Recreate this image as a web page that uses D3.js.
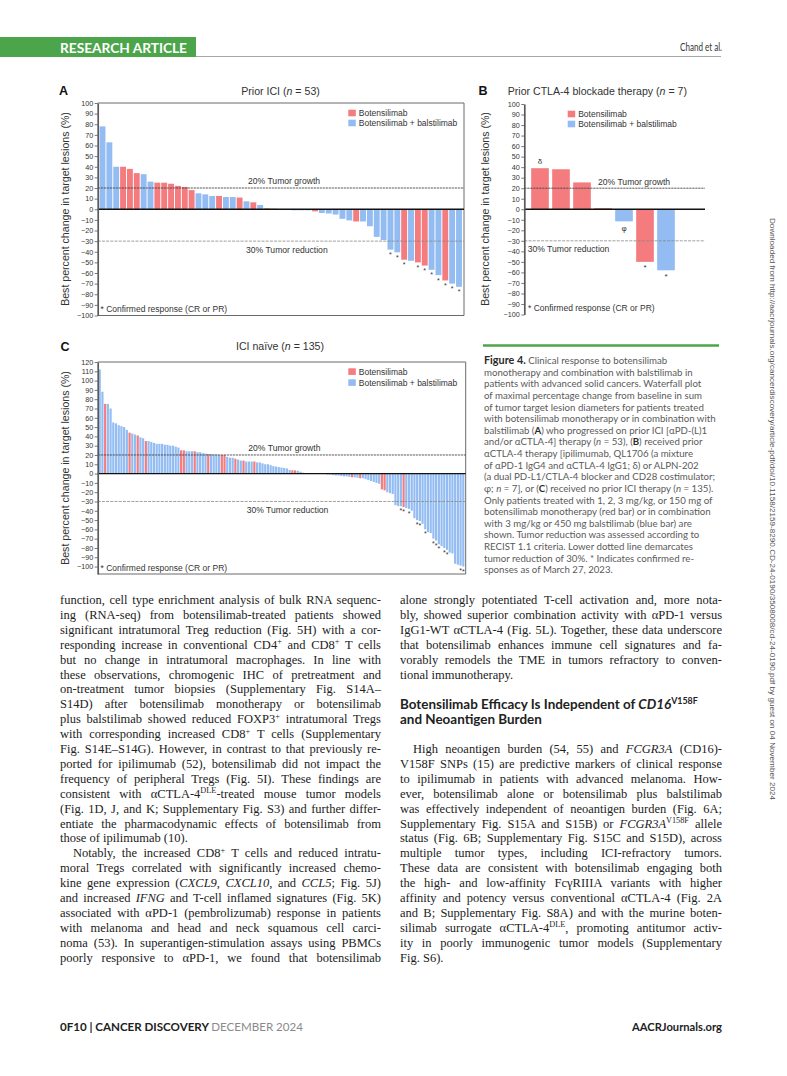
<!DOCTYPE html>
<html>
<head>
<meta charset="utf-8">
<script src="https://cdn.jsdelivr.net/npm/d3@7/dist/d3.min.js"></script>
<style>
html,body{margin:0;padding:0;background:#fff;}
svg{display:block;}
</style>
</head>
<body>
<svg id="page" width="787" height="1076"></svg>
<script>
// ================= DATA =================
const seriesNames = ["Botensilimab", "Botensilimab + balstilimab"];

// Panel A: Prior ICI (n = 53)
const panelA_values = [78, 63, 40, 40, 38, 34, 33, 26, 25, 25, 24, 22, 21, 18, 15, 14, 12.5, 12.5, 11.5, 11.5,
  11, 7.5, 6.5, 4, 0.8, 0.5, 0, 0, -1, -1, -1, -2, -3.5, -4, -5, -9, -10.5, -11.5, -11.5, -16,
  -26, -29, -38, -40.5, -47.5, -48.5, -50, -53, -57, -62, -67, -70, -73];
const panelA_monoIdx = [3, 4, 5, 8, 9, 10, 11, 12, 13, 17, 20, 22, 24, 25, 31, 37, 44, 46, 47, 50];
const panelA_confirmedIdx = [42, 43, 44, 46, 47, 48, 49, 50, 51, 52];

// Panel B: Prior CTLA-4 blockade therapy (n = 7)
const panelB_values = [39, 38, 25.5, 1, -11.5, -50, -58];
const panelB_monoIdx = [0, 1, 2, 3, 5];
const panelB_marks = [{i: 0, s: "δ", pos: "above"}, {i: 4, s: "φ", pos: "below"}, {i: 5, s: "*", pos: "below"}, {i: 6, s: "*", pos: "below"}];

// Panel C: ICI naive (n = 135)
const panelC_values = [112, 88, 75, 75, 70, 55, 54, 52, 51, 50,
  47, 44, 43, 42, 41, 39, 38, 35, 35, 34,
  33, 32, 32, 32, 31, 31, 30, 30, 29, 28,
  25, 25, 24, 24, 24, 24, 23, 23, 22, 21.5,
  21, 21, 20.5, 20.5, 20, 20, 20, 18, 17, 17,
  16, 15, 14, 14, 13, 13, 13, 13, 12, 12,
  11, 10, 10, 9, 8, 7.5, 7, 6.5, 6, 5.5,
  4, 3.5, 3.5, 3, 2, 1,
  0, 0, 0, 0, 0, 0, 0, 0,
  -1, -1, -1.5, -2, -2, -2.5, -3, -3, -3.5,
  -4, -4, -4.5, -5,
  -5, -6, -7, -8, -9, -10, -11,
  -17, -18, -20, -21, -22,
  -34, -35, -35, -36, -37, -38, -40, -48, -50, -51, -54, -60, -63, -64, -70, -72, -76, -78, -80, -82, -85, -86, -97, -98, -99, -100];
const panelC_monoIdx = [2, 11, 14, 17, 30, 31, 35, 40, 45, 46, 50, 53, 57, 71, 72, 93, 96, 104, 105, 112];
const panelC_confirmedIdx = [111, 112, 114, 117, 118, 120, 123, 124, 125, 127, 128, 133, 134];

const ticksAB = [-100, -90, -80, -70, -60, -50, -40, -30, -20, -10, 0, 10, 20, 30, 40, 50, 60, 70, 80, 90, 100];
const ticksC = [-100, -90, -80, -70, -60, -50, -40, -30, -20, -10, 0, 10, 20, 30, 40, 50, 60, 70, 80, 90, 100, 110, 120];
const growthLabel = "20% Tumor growth";
const reductionLabel = "30% Tumor reduction";
const footnoteLabel = "* Confirmed response (CR or PR)";
const yAxisTitle = "Best percent change in target lesions (%)";

// Text content
const captionLines = [
  "#{Figure 4.}  Clinical response to botensilimab",
  "monotherapy and combination with balstilimab in",
  "patients with advanced solid cancers. Waterfall plot",
  "of maximal percentage change from baseline in sum",
  "of tumor target lesion diameters for patients treated",
  "with botensilimab monotherapy or in combination with",
  "balstilimab (#{A}) who progressed on prior ICI [αPD-(L)1",
  "and/or αCTLA-4] therapy (~{n} = 53), (#{B}) received prior",
  "αCTLA-4 therapy [ipilimumab, QL1706 (a mixture",
  "of αPD-1 IgG4 and αCTLA-4 IgG1; δ) or ALPN-202",
  "(a dual PD-L1/CTLA-4 blocker and CD28 costimulator;",
  "φ; ~{n} = 7], or (#{C}) received no prior ICI therapy (~{n} = 135).",
  "Only patients treated with 1, 2, 3 mg/kg, or 150 mg of",
  "botensilimab monotherapy (red bar) or in combination",
  "with 3 mg/kg or 450 mg balstilimab (blue bar) are",
  "shown. Tumor reduction was assessed according to",
  "RECIST 1.1 criteria. Lower dotted line demarcates",
  "tumor reduction of 30%. * Indicates confirmed re-",
  "sponses as of March 27, 2023."
];

const leftColumn = [
  "function, cell type enrichment analysis of bulk RNA sequenc-",
  "ing (RNA-seq) from botensilimab-treated patients showed",
  "significant intratumoral Treg reduction (Fig. 5H) with a cor-",
  "responding increase in conventional CD4^{+} and CD8^{+} T cells",
  "but no change in intratumoral macrophages. In line with",
  "these observations, chromogenic IHC of pretreatment and",
  "on-treatment tumor biopsies (Supplementary Fig. S14A–",
  "S14D) after botensilimab monotherapy or botensilimab",
  "plus balstilimab showed reduced FOXP3^{+} intratumoral Tregs",
  "with corresponding increased CD8^{+} T cells (Supplementary",
  "Fig. S14E–S14G). However, in contrast to that previously re-",
  "ported for ipilimumab (52), botensilimab did not impact the",
  "frequency of peripheral Tregs (Fig. 5I). These findings are",
  "consistent with αCTLA-4^{DLE}-treated mouse tumor models",
  "(Fig. 1D, J, and K; Supplementary Fig. S3) and further differ-",
  "entiate the pharmacodynamic effects of botensilimab from",
  "those of ipilimumab (10).|",
  "\tNotably, the increased CD8^{+} T cells and reduced intratu-",
  "moral Tregs correlated with significantly increased chemo-",
  "kine gene expression (~{CXCL9}, ~{CXCL10}, and ~{CCL5}; Fig. 5J)",
  "and increased ~{IFNG} and T-cell inflamed signatures (Fig. 5K)",
  "associated with αPD-1 (pembrolizumab) response in patients",
  "with melanoma and head and neck squamous cell carci-",
  "noma (53). In superantigen-stimulation assays using PBMCs",
  "poorly responsive to αPD-1, we found that botensilimab"
];

const rightColumnTop = [
  "alone strongly potentiated T-cell activation and, more nota-",
  "bly, showed superior combination activity with αPD-1 versus",
  "IgG1-WT αCTLA-4 (Fig. 5L). Together, these data underscore",
  "that botensilimab enhances immune cell signatures and fa-",
  "vorably remodels the TME in tumors refractory to conven-",
  "tional immunotherapy.|"
];
const headingLines = [
  "Botensilimab Efficacy Is Independent of ~{CD16}^{V158F}",
  "and Neoantigen Burden"
];
const rightColumnBottom = [
  "\tHigh neoantigen burden (54, 55) and ~{FCGR3A} (CD16)-",
  "V158F SNPs (15) are predictive markers of clinical response",
  "to ipilimumab in patients with advanced melanoma. How-",
  "ever, botensilimab alone or botensilimab plus balstilimab",
  "was effectively independent of neoantigen burden (Fig. 6A;",
  "Supplementary Fig. S15A and S15B) or ~{FCGR3A}^{V158F} allele",
  "status (Fig. 6B; Supplementary Fig. S15C and S15D), across",
  "multiple tumor types, including ICI-refractory tumors.",
  "These data are consistent with botensilimab engaging both",
  "the high- and low-affinity FcγRIIIA variants with higher",
  "affinity and potency versus conventional αCTLA-4 (Fig. 2A",
  "and B; Supplementary Fig. S8A) and with the murine boten-",
  "silimab surrogate αCTLA-4^{DLE}, promoting antitumor activ-",
  "ity in poorly immunogenic tumor models (Supplementary",
  "Fig. S6).|"
];
const sideNote = "Downloaded from http://aacrjournals.org/cancerdiscovery/article-pdf/doi/10.1158/2159-8290.CD-24-0190/3508008/cd-24-0190.pdf by guest on 04 November 2024";

// ================= DRAWING =================
const svg = d3.select("#page");
const SANS = "'Liberation Sans', Arial, Helvetica, sans-serif";
const SERIF = "'Liberation Serif', 'Times New Roman', serif";
const CAP = "Lato, 'Open Sans', sans-serif";
const RED = "#f47b7e", BLUE = "#93bcf2", GREEN = "#4ca54a";
const color = d3.scaleOrdinal().domain(seriesNames).range([RED, BLUE]);

function fmtTick(d) { return d < 0 ? "\u2212" + Math.abs(d) : String(d); }

function richLine(parent, str, x, y, o) {
  const t = parent.append("text").attr("x", x).attr("y", y)
    .attr("font-family", o.family).attr("font-size", o.size).attr("fill", o.fill || "#222");
  if (o.weight) t.attr("font-weight", o.weight);
  if (o.anchor) t.attr("text-anchor", o.anchor);
  const re = /(\^\{[^}]*\}|~\{[^}]*\}|#\{[^}]*\}|[^^~#]+)/g;
  let m, pending = 0, plain = "";
  const shift = o.size * 0.36;
  while ((m = re.exec(str)) !== null) {
    const tok = m[0];
    let ts;
    if (tok.startsWith("^{")) {
      ts = t.append("tspan").text(tok.slice(2, -1)).attr("font-size", o.size * 0.66).attr("dy", -shift + pending);
      pending = shift;
    } else {
      let txt = tok, st = null;
      if (tok.startsWith("~{")) { txt = tok.slice(2, -1); st = "i"; }
      else if (tok.startsWith("#{")) { txt = tok.slice(2, -1); st = "b"; }
      ts = t.append("tspan").text(txt);
      if (st === "i") ts.attr("font-style", "italic");
      if (st === "b") { ts.attr("font-weight", "bold"); if (o.boldFill) ts.attr("fill", o.boldFill); if (o.boldSize) ts.attr("font-size", o.boldSize); }
      if (pending) { ts.attr("dy", pending); pending = 0; }
    }
    plain += ts.text();
  }
  if (o.justify && o.width) {
    const nat = t.node().getComputedTextLength();
    const spaces = (plain.match(/ /g) || []).length;
    if (nat < o.width && spaces > 0) t.attr("word-spacing", (o.width - nat) / spaces);
    else if (nat > o.width) t.attr("textLength", o.width).attr("lengthAdjust", "spacingAndGlyphs");
  }
  return t;
}

function waterfall(o) {
  const g = svg.append("g");
  const n = o.values.length;
  const x = d3.scaleBand().domain(d3.range(n)).range([o.bx0, o.bx1]).paddingInner(o.padIn).paddingOuter(o.padOut);
  const y = d3.scaleLinear().domain(o.yDomain).range([o.yBottom, o.yTop]);
  const mono = new Set(o.mono);
  const arm = i => mono.has(i) ? seriesNames[0] : seriesNames[1];

  if (o.frame) {
    g.append("path").attr("d", `M${o.axisX},${o.yTop}H${o.rightX}V${o.yBottom}H${o.axisX}`)
      .attr("fill", "none").attr("stroke", "#6a6a6a").attr("stroke-width", 1);
  }
  g.append("g").selectAll("rect").data(o.values).join("rect")
    .attr("x", (d, i) => x(i)).attr("width", x.bandwidth())
    .attr("y", d => y(Math.max(0, d))).attr("height", d => Math.abs(y(d) - y(0)))
    .attr("fill", (d, i) => color(arm(i)));

  // reference lines
  g.append("line").attr("x1", o.axisX).attr("x2", o.lineRight).attr("y1", y(20)).attr("y2", y(20))
    .attr("stroke", "#444").attr("stroke-width", 0.9).attr("stroke-dasharray", "2.2,0.8");
  g.append("line").attr("x1", o.axisX).attr("x2", o.lineRight).attr("y1", y(-30)).attr("y2", y(-30))
    .attr("stroke", "#888").attr("stroke-width", 0.8).attr("stroke-dasharray", "3,1.2");
  g.append("line").attr("x1", o.axisX).attr("x2", o.lineRight).attr("y1", y(0)).attr("y2", y(0))
    .attr("stroke", "#111").attr("stroke-width", 1.3);

  // axis
  const ax = g.append("g").attr("transform", `translate(${o.axisX},0)`)
    .call(d3.axisLeft(y).tickValues(o.ticks).tickSize(3).tickSizeOuter(0).tickPadding(1.5).tickFormat(fmtTick));
  ax.select(".domain").attr("stroke", "#5a5a5a").attr("stroke-width", 1.7);
  ax.selectAll(".tick line").attr("stroke", "#555").attr("stroke-width", 0.8);
  ax.selectAll(".tick text").attr("font-family", SANS).attr("font-size", 7.2).attr("fill", "#333");

  // y title
  g.append("text").attr("transform", `translate(${o.yLabelX},${o.yLabelY}) rotate(-90)`)
    .attr("text-anchor", "middle").attr("font-family", SANS).attr("font-size", 10.6).attr("fill", "#333")
    .text(yAxisTitle);

  // panel letter + title
  g.append("text").attr("x", o.letterX).attr("y", o.letterY).attr("font-family", SANS)
    .attr("font-weight", "bold").attr("font-size", 12.5).attr("fill", "#111").text(o.letter);
  richLine(g, o.title, o.titleX, o.titleY, {family: SANS, size: 10.6, fill: "#333", anchor: o.titleAnchor});

  // legend
  seriesNames.forEach((s, k) => {
    g.append("rect").attr("x", o.legendX).attr("y", o.legendY + k * o.legendStep)
      .attr("width", 7.5).attr("height", 6.6).attr("fill", color(s));
    g.append("text").attr("x", o.legendX + 10.5).attr("y", o.legendY + k * o.legendStep + 6.3)
      .attr("font-family", SANS).attr("font-size", 8.5).attr("fill", "#333").text(s);
  });

  // line labels
  g.append("text").attr("x", o.growthX).attr("y", o.growthY).attr("font-family", SANS)
    .attr("font-size", 8.6).attr("fill", "#333").text(growthLabel);
  g.append("text").attr("x", o.reductionX).attr("y", o.reductionY).attr("font-family", SANS)
    .attr("font-size", 8.6).attr("fill", "#333").text(reductionLabel);
  g.append("text").attr("x", o.footX).attr("y", o.footY).attr("font-family", SANS)
    .attr("font-size", 8.5).attr("fill", "#333").text(footnoteLabel);

  // marks
  g.append("g").selectAll("text").data(o.marks).join("text")
    .attr("x", d => x(d.i) + x.bandwidth() / 2)
    .attr("y", d => d.pos === "above" ? y(o.values[d.i]) - o.markAbove : y(o.values[d.i]) + (d.s === "*" ? o.starBelow : o.symBelow))
    .attr("text-anchor", "middle").attr("font-family", SANS)
    .attr("font-size", d => d.s === "*" ? o.starSize : 8).attr("fill", "#333")
    .text(d => d.s);
}

// Panel A
waterfall({
  values: panelA_values, mono: panelA_monoIdx,
  marks: panelA_confirmedIdx.map(i => ({i, s: "*", pos: "below"})),
  bx0: 99, bx1: 462.5, padIn: 0.14, padOut: 0.08,
  yDomain: [-100, 100], yTop: 103, yBottom: 315.5,
  axisX: 97.7, rightX: 464, lineRight: 464, frame: true, ticks: ticksAB,
  letter: "A", letterX: 59, letterY: 95,
  title: "Prior ICI (~{n} = 53)", titleX: 280.5, titleY: 95, titleAnchor: "middle",
  legendX: 348.3, legendY: 109.7, legendStep: 10,
  growthX: 248, growthY: 184, reductionX: 246, reductionY: 253,
  footX: 100.5, footY: 311.5, yLabelX: 68.8, yLabelY: 209,
  starBelow: 7.5, symBelow: 9, markAbove: 4, starSize: 7
});

// Panel B
waterfall({
  values: panelB_values, mono: panelB_monoIdx, marks: panelB_marks,
  bx0: 529.5, bx1: 676.5, padIn: 0.16, padOut: 0.08,
  yDomain: [-100, 100], yTop: 104, yBottom: 314.5,
  axisX: 524.3, rightX: 705, lineRight: 705, frame: false, ticks: ticksAB,
  letter: "B", letterX: 478.5, letterY: 95,
  title: "Prior CTLA-4 blockade therapy (~{n} = 7)", titleX: 507.7, titleY: 95, titleAnchor: "start",
  legendX: 567.7, legendY: 110.7, legendStep: 10,
  growthX: 598, growthY: 184.7, reductionX: 527.7, reductionY: 252.3,
  footX: 528, footY: 311, yLabelX: 488.5, yLabelY: 209,
  starBelow: 8.5, symBelow: 10, markAbove: 4.5, starSize: 8
});

// Panel C
waterfall({
  values: panelC_values, mono: panelC_monoIdx,
  marks: panelC_confirmedIdx.map(i => ({i, s: "*", pos: "below"})),
  bx0: 98.5, bx1: 464.5, padIn: 0.2, padOut: 0.05,
  yDomain: [-108, 120], yTop: 362, yBottom: 574,
  axisX: 97.7, rightX: 465.7, lineRight: 465.7, frame: true, ticks: ticksC,
  letter: "C", letterX: 60.5, letterY: 351,
  title: "ICI naïve (~{n} = 135)", titleX: 280, titleY: 350, titleAnchor: "middle",
  legendX: 348.3, legendY: 368.3, legendStep: 11,
  growthX: 248.3, growthY: 451.3, reductionX: 246.7, reductionY: 513,
  footX: 100.5, footY: 571.3, yLabelX: 68.8, yLabelY: 468,
  starBelow: 7, symBelow: 9, markAbove: 4, starSize: 7
});

// ---------- Header ----------
svg.append("rect").attr("x", 0).attr("y", 37).attr("width", 196).attr("height", 20).attr("fill", GREEN);
svg.append("text").attr("x", 60).attr("y", 52.5).attr("font-family", CAP).attr("font-weight", "bold")
  .attr("font-size", 13.5).attr("fill", "#fff").attr("textLength", 127).attr("lengthAdjust", "spacingAndGlyphs")
  .text("RESEARCH ARTICLE");
svg.append("line").attr("x1", 196).attr("x2", 721).attr("y1", 56.5).attr("y2", 56.5).attr("stroke", "#a8a8a8").attr("stroke-width", 1);
svg.append("text").attr("x", 722).attr("y", 51).attr("text-anchor", "end").attr("font-family", CAP)
  .attr("font-size", 10.5).attr("fill", "#333").attr("textLength", 42).attr("lengthAdjust", "spacingAndGlyphs")
  .text("Chand et al.");

// ---------- Caption ----------
svg.append("line").attr("x1", 483).attr("x2", 719).attr("y1", 345.5).attr("y2", 345.5).attr("stroke", GREEN).attr("stroke-width", 2.6);
(function() {
  const probe = svg.append("text").attr("font-family", CAP).attr("font-size", 10).text(captionLines[5]);
  const len = probe.node().getComputedTextLength();
  probe.remove();
  const size = 10 * 232 / len;
  const cg = svg.append("g");
  captionLines.forEach((l, i) => {
    richLine(cg, l, 484, 364 + i * 11.63, {family: CAP, size: size, fill: "#5a5a5a", boldFill: "#2a2a2a", boldSize: i === 0 && l.startsWith("#{Figure") ? size * 1.12 : null});
  });
})();

// ---------- Body text ----------
function column(lines, x, width, y0, step, size) {
  const g = svg.append("g");
  lines.forEach((raw, i) => {
    let s = raw, indent = 0, justify = true;
    if (s.startsWith("\t")) { s = s.slice(1); indent = 13; }
    if (s.endsWith("|")) { s = s.slice(0, -1); justify = false; }
    richLine(g, s, x + indent, y0 + i * step, {family: SERIF, size: size, fill: "#222", justify, width: width - indent});
  });
}
const LINE = 14.9, BODY = 12.5;
column(leftColumn, 60, 321, 604, LINE, BODY);
column(rightColumnTop, 400, 322, 604, LINE, BODY);
const lastBase = 604 + 24 * LINE;
column(rightColumnBottom, 400, 322, lastBase - 14 * LINE, LINE, BODY);

// heading
(function() {
  const hg = svg.append("g");
  const h1 = richLine(hg, headingLines[0], 400, 708.5, {family: CAP, size: 12.5, weight: "bold", fill: "#222"});
  const len = h1.node().getComputedTextLength();
  const s = 12.5 * 298 / len;
  h1.remove();
  richLine(hg, headingLines[0], 400, 708.5, {family: CAP, size: s, weight: "bold", fill: "#222"});
  richLine(hg, headingLines[1], 400, 723.5, {family: CAP, size: s, weight: "bold", fill: "#222"});
})();

// ---------- Footer ----------
(function() {
  const t = svg.append("text").attr("x", 60).attr("y", 1031).attr("font-family", CAP).attr("font-size", 11.5)
    .attr("textLength", 243).attr("lengthAdjust", "spacingAndGlyphs");
  t.append("tspan").attr("font-weight", "bold").attr("fill", "#222").text("0F10 | CANCER DISCOVERY ");
  t.append("tspan").attr("fill", "#8a8a8a").text("DECEMBER 2024");
  svg.append("text").attr("x", 722).attr("y", 1031).attr("text-anchor", "end").attr("font-family", CAP)
    .attr("font-weight", "bold").attr("font-size", 11.5).attr("fill", "#222")
    .attr("textLength", 90).attr("lengthAdjust", "spacingAndGlyphs").text("AACRJournals.org");
})();

// ---------- Side note ----------
svg.append("text").attr("transform", "translate(769.5,218) rotate(90)").attr("font-family", SANS)
  .attr("font-size", 7.2).attr("fill", "#555").attr("textLength", 582).attr("lengthAdjust", "spacingAndGlyphs")
  .text(sideNote);
</script>
</body>
</html>
